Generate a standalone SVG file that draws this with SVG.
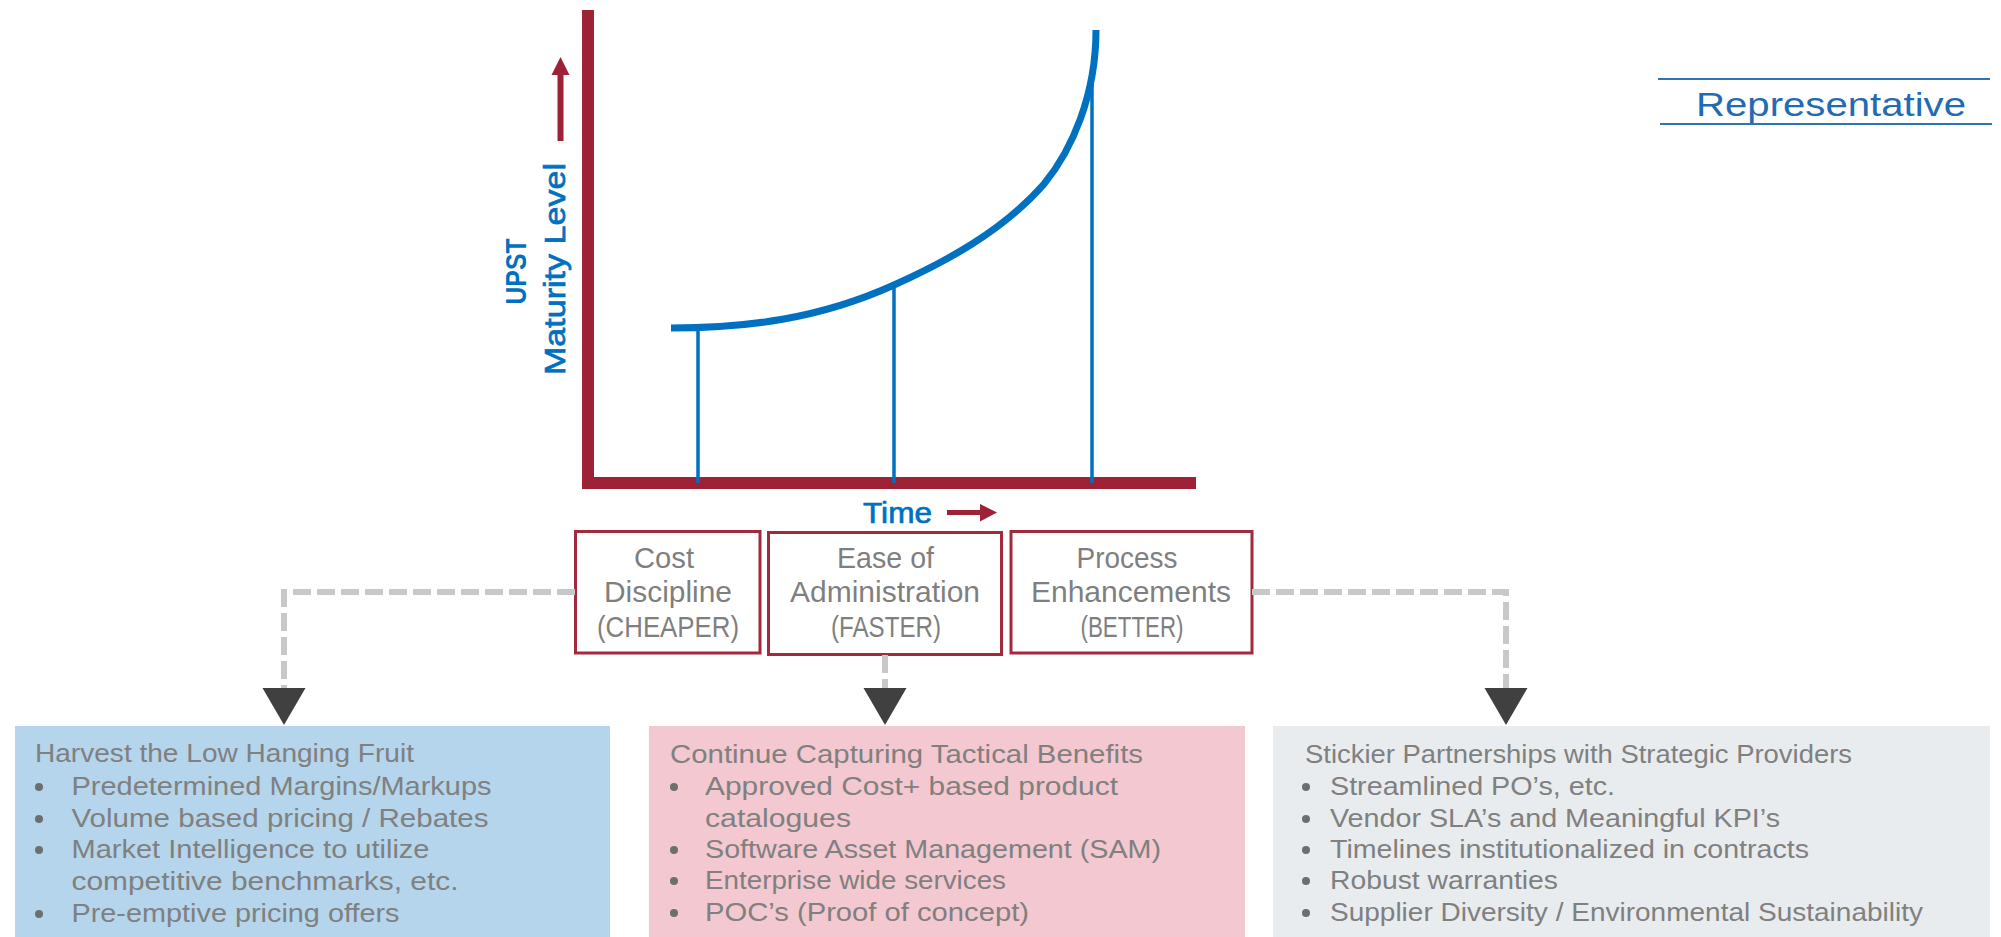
<svg xmlns="http://www.w3.org/2000/svg" xmlns:xlink="http://www.w3.org/1999/xlink" width="2001" height="937" viewBox="0 0 2001 937">
<style>
.axis{fill:#9E2235}
.curve{fill:none;stroke:#0070C0;stroke-width:7}
.drop{stroke:#0070C0;stroke-width:3.5}
.lbl{font-family:"Liberation Sans",Arial,sans-serif;fill:#0070C0}
.box{fill:#FFFFFF;stroke:#A3293D;stroke-width:3}
.bt{font-family:"Liberation Sans",Arial,sans-serif;font-size:29px;fill:#7F7F7F;text-anchor:middle}
.pt{font-family:"Liberation Sans",Arial,sans-serif;font-size:25px;fill:#808080}
.bul{fill:#6E6E6E}
.dash{fill:none;stroke:#C8C8C8;stroke-width:6;stroke-dasharray:18 6}
.head{fill:#404040}
.rep{font-family:"Liberation Sans",Arial,sans-serif;font-size:34px;fill:#1F6BB5}
.repline{stroke:#2E75B6;stroke-width:2}
</style>
<defs>
<polygon id="ah" points="-21.5,0 21.5,0 0,37"/>
</defs>

<g id="chart">
<rect class="axis" x="582" y="10" width="12" height="479"/>
<rect class="axis" x="582" y="477" width="614" height="12"/>
<line class="drop" x1="698" y1="330" x2="698" y2="483"/>
<line class="drop" x1="894" y1="286" x2="894" y2="483"/>
<line class="drop" x1="1092" y1="80" x2="1092" y2="483"/>
<path class="curve" d="M671 328 C746 328 819 319 894 285 C944 262.5 1002 232 1044 184 C1072 150 1096 95 1096 30"/>
<rect class="axis" x="557.5" y="74" width="6" height="67"/>
<polygon class="axis" points="551.5,75 569.5,75 560.5,57"/>
<text class="lbl" font-size="29" font-weight="bold" transform="translate(526,271.5) rotate(-90)" text-anchor="middle" textLength="66" lengthAdjust="spacingAndGlyphs">UPST</text>
<text class="lbl" font-size="30" stroke="#0070C0" stroke-width="0.7" transform="translate(565,269) rotate(-90)" text-anchor="middle" textLength="212" lengthAdjust="spacingAndGlyphs">Maturity Level</text>
<text class="lbl" x="863" y="523" font-size="29" stroke="#0070C0" stroke-width="0.7" textLength="69" lengthAdjust="spacingAndGlyphs">Time</text>
<rect class="axis" x="947" y="510" width="34" height="5"/>
<polygon class="axis" points="980,504 997,512.5 980,521.5"/>
</g>

<g id="box-cheaper">
<rect class="box" x="575.5" y="531.5" width="184.5" height="121.5"/>
<text class="bt" x="664" y="568" textLength="60" lengthAdjust="spacingAndGlyphs">Cost</text>
<text class="bt" x="668" y="602" textLength="128" lengthAdjust="spacingAndGlyphs">Discipline</text>
<text class="bt" x="668" y="637" textLength="142" lengthAdjust="spacingAndGlyphs">(CHEAPER)</text>
</g>

<g id="box-faster">
<rect class="box" x="768.5" y="532.5" width="233" height="122"/>
<text class="bt" x="885.5" y="568" textLength="97" lengthAdjust="spacingAndGlyphs">Ease of</text>
<text class="bt" x="885" y="602" textLength="190" lengthAdjust="spacingAndGlyphs">Administration</text>
<text class="bt" x="886" y="637" textLength="110" lengthAdjust="spacingAndGlyphs">(FASTER)</text>
</g>

<g id="box-better">
<rect class="box" x="1011" y="531.5" width="241" height="121.5"/>
<text class="bt" x="1127" y="568" textLength="101" lengthAdjust="spacingAndGlyphs">Process</text>
<text class="bt" x="1131" y="602" textLength="200" lengthAdjust="spacingAndGlyphs">Enhancements</text>
<text class="bt" x="1132" y="637" textLength="103" lengthAdjust="spacingAndGlyphs">(BETTER)</text>
</g>

<g id="connectors">
<path class="dash" d="M575 592 H284 V688"/>
<path class="dash" d="M885 655 V688"/>
<path class="dash" d="M1252 592 H1506 V688"/>
<use xlink:href="#ah" href="#ah" class="head" x="284" y="688"/>
<use xlink:href="#ah" href="#ah" class="head" x="885" y="688"/>
<use xlink:href="#ah" href="#ah" class="head" x="1506" y="688"/>
</g>

<g id="panel-harvest">
<rect x="15" y="726" width="595" height="211" fill="#B4D5EB"/>
<text class="pt" x="35" y="762" textLength="379" lengthAdjust="spacingAndGlyphs">Harvest the Low Hanging Fruit</text>
<circle class="bul" cx="39" cy="787" r="4"/>
<text class="pt" x="71.5" y="795" textLength="420" lengthAdjust="spacingAndGlyphs">Predetermined Margins/Markups</text>
<circle class="bul" cx="39" cy="819" r="4"/>
<text class="pt" x="71.5" y="827" textLength="417" lengthAdjust="spacingAndGlyphs">Volume based pricing / Rebates</text>
<circle class="bul" cx="39" cy="850" r="4"/>
<text class="pt" x="71.5" y="858" textLength="358" lengthAdjust="spacingAndGlyphs">Market Intelligence to utilize</text>
<text class="pt" x="71.5" y="890" textLength="387" lengthAdjust="spacingAndGlyphs">competitive benchmarks, etc.</text>
<circle class="bul" cx="39" cy="914" r="4"/>
<text class="pt" x="71.5" y="922" textLength="328" lengthAdjust="spacingAndGlyphs">Pre-emptive pricing offers</text>
</g>

<g id="panel-tactical">
<rect x="649" y="726" width="596" height="211" fill="#F3C8D0"/>
<text class="pt" x="670" y="763" textLength="473" lengthAdjust="spacingAndGlyphs">Continue Capturing Tactical Benefits</text>
<circle class="bul" cx="674" cy="787" r="4"/>
<text class="pt" x="705" y="795" textLength="413" lengthAdjust="spacingAndGlyphs">Approved Cost+ based product</text>
<text class="pt" x="705" y="827" textLength="146" lengthAdjust="spacingAndGlyphs">catalogues</text>
<circle class="bul" cx="674" cy="850" r="4"/>
<text class="pt" x="705" y="858" textLength="456" lengthAdjust="spacingAndGlyphs">Software Asset Management (SAM)</text>
<circle class="bul" cx="674" cy="881" r="4"/>
<text class="pt" x="705" y="889" textLength="301" lengthAdjust="spacingAndGlyphs">Enterprise wide services</text>
<circle class="bul" cx="674" cy="913" r="4"/>
<text class="pt" x="705" y="921" textLength="324" lengthAdjust="spacingAndGlyphs">POC’s (Proof of concept)</text>
</g>

<g id="panel-strategic">
<rect x="1273" y="726" width="717" height="211" fill="#E9ECEF"/>
<text class="pt" x="1305" y="763" textLength="547" lengthAdjust="spacingAndGlyphs">Stickier Partnerships with Strategic Providers</text>
<circle class="bul" cx="1306" cy="787" r="4"/>
<text class="pt" x="1330" y="795" textLength="285" lengthAdjust="spacingAndGlyphs">Streamlined PO’s, etc.</text>
<circle class="bul" cx="1306" cy="819" r="4"/>
<text class="pt" x="1330" y="827" textLength="450" lengthAdjust="spacingAndGlyphs">Vendor SLA’s and Meaningful KPI’s</text>
<circle class="bul" cx="1306" cy="850" r="4"/>
<text class="pt" x="1330" y="858" textLength="479" lengthAdjust="spacingAndGlyphs">Timelines institutionalized in contracts</text>
<circle class="bul" cx="1306" cy="881" r="4"/>
<text class="pt" x="1330" y="889" textLength="228" lengthAdjust="spacingAndGlyphs">Robust warranties</text>
<circle class="bul" cx="1306" cy="913" r="4"/>
<text class="pt" x="1330" y="921" textLength="593" lengthAdjust="spacingAndGlyphs">Supplier Diversity / Environmental Sustainability</text>
</g>

<g id="label-representative">
<line class="repline" x1="1658" y1="79" x2="1990" y2="79"/>
<line class="repline" x1="1660" y1="124" x2="1992" y2="124"/>
<text class="rep" x="1696" y="116" textLength="270" lengthAdjust="spacingAndGlyphs">Representative</text>
</g>
</svg>
